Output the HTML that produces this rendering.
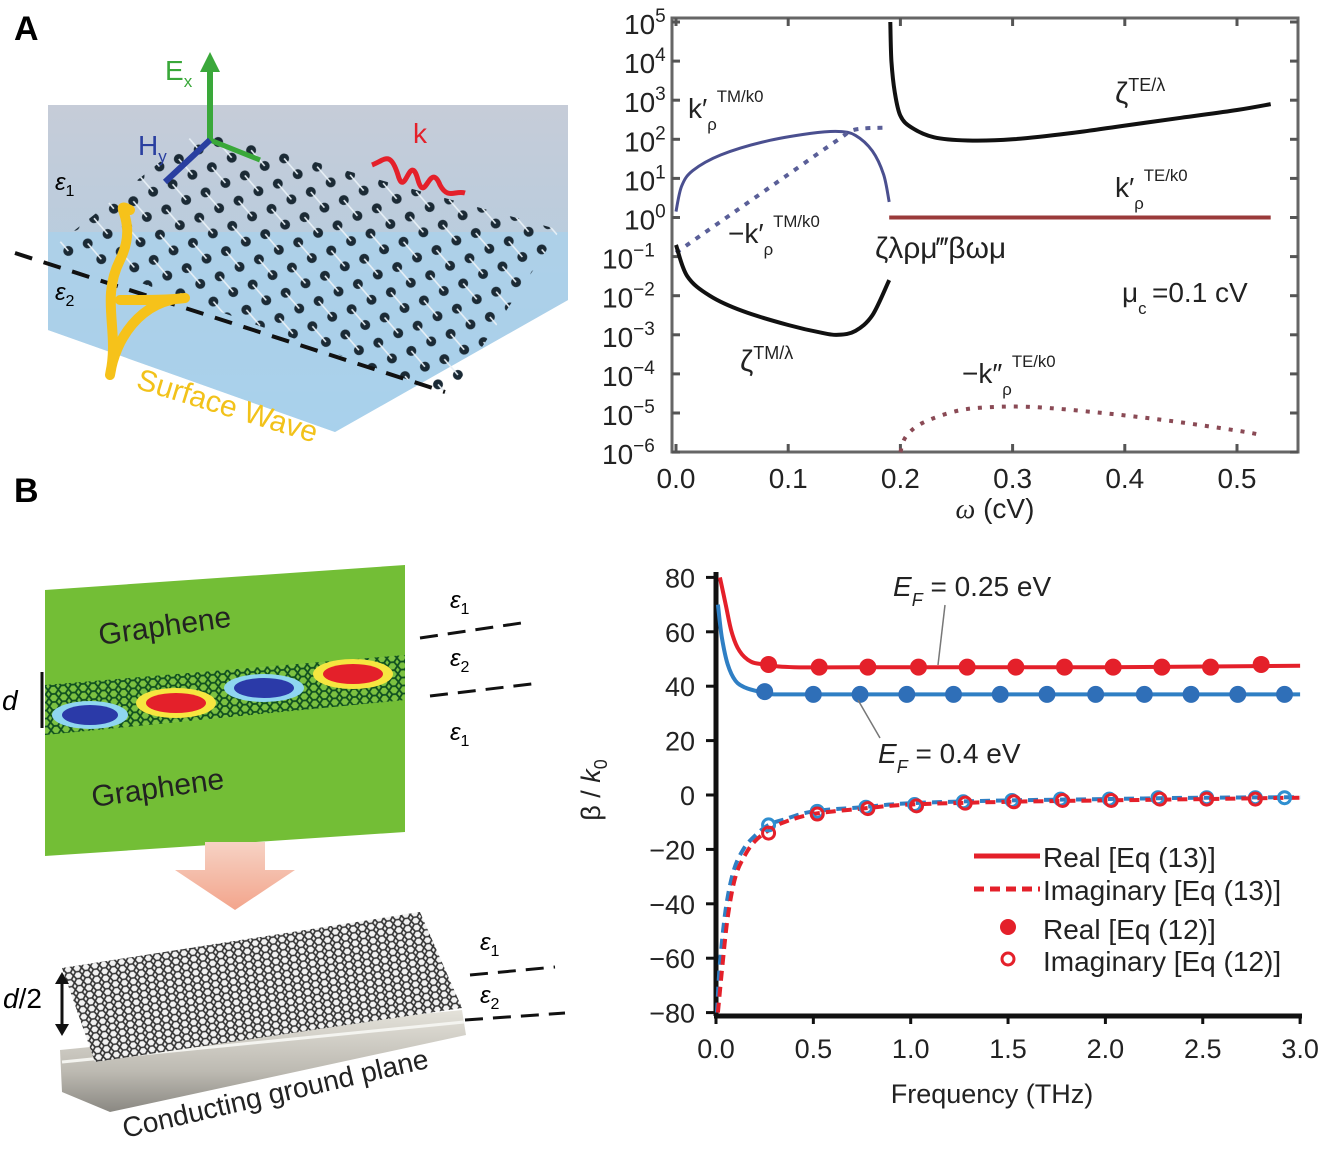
<!DOCTYPE html>
<html><head><meta charset="utf-8">
<style>
html,body{margin:0;padding:0;background:#fff;}
body{width:1321px;height:1147px;overflow:hidden;font-family:"Liberation Sans",sans-serif;}
svg text{font-family:"Liberation Sans",sans-serif;}
</style></head>
<body>
<svg id="fig" width="1321" height="1147" viewBox="0 0 1321 1147" xmlns="http://www.w3.org/2000/svg">
<defs>
  <linearGradient id="bgA" x1="0" y1="0" x2="0" y2="1">
    <stop offset="0" stop-color="#c6ccd8"/><stop offset="0.6" stop-color="#b4cde0"/><stop offset="1" stop-color="#a9d0ea"/>
  </linearGradient>
  <pattern id="dots" width="34" height="26" patternUnits="userSpaceOnUse" patternTransform="rotate(14)">
    <circle cx="8" cy="7" r="5" fill="#1b2a35"/><circle cx="25" cy="19" r="5" fill="#1b2a35"/>
    <line x1="8" y1="7" x2="25" y2="19" stroke="#e8f0f6" stroke-width="1.6"/>
  </pattern>
  <pattern id="hexg" width="10" height="8" patternUnits="userSpaceOnUse" patternTransform="rotate(-4)">
    <rect width="10" height="8" fill="#7cc241"/>
    <path d="M0 4 L3 0 L7 0 L10 4 L7 8 L3 8 Z" fill="none" stroke="#0f4f1f" stroke-width="1.8"/>
  </pattern>
  <pattern id="hexk" width="9" height="7" patternUnits="userSpaceOnUse" patternTransform="rotate(-8)">
    <rect width="9" height="7" fill="#f2f2f2"/>
    <path d="M0 3.5 L2.5 0 L6.5 0 L9 3.5 L6.5 7 L2.5 7 Z" fill="none" stroke="#333" stroke-width="1.6"/>
  </pattern>
  <linearGradient id="slab" x1="0" y1="0" x2="0" y2="1">
    <stop offset="0" stop-color="#e4e2da"/><stop offset="0.6" stop-color="#bdbab2"/><stop offset="1" stop-color="#8a8882"/>
  </linearGradient>
  <linearGradient id="arr" x1="0" y1="0" x2="0" y2="1">
    <stop offset="0" stop-color="#f6d2c4"/><stop offset="1" stop-color="#f3a58c"/>
  </linearGradient>
</defs>

<g>
  <text x="14" y="40" font-size="34" font-weight="bold">A</text>
  <polygon points="48,105 568,105 568,300 335,432 48,330" fill="url(#bgA)"/>
  <polygon points="48,232 568,232 568,300 335,432 48,330" fill="#a8d2ec" opacity="0.7"/>
  <polygon points="50,250 200,130 560,230 450,395" fill="url(#dots)"/>
  <line x1="15" y1="253" x2="445" y2="392" stroke="#111" stroke-width="4" stroke-dasharray="18,12"/>
  <path d="M110,375 C120,330 100,300 120,260 C140,220 110,200 130,210 M120,300 C150,300 170,300 185,298 M110,375 C115,340 140,300 185,298" fill="none" stroke="#f6c21a" stroke-width="10" stroke-linecap="round"/>
  <text x="135" y="388" font-size="30" fill="#f2c21a" transform="rotate(17 135 388)">Surface Wave</text>
  <line x1="210" y1="140" x2="210" y2="68" stroke="#3aa83a" stroke-width="6"/>
  <polygon points="200,72 220,72 210,52" fill="#3aa83a"/>
  <line x1="210" y1="140" x2="260" y2="160" stroke="#3aa83a" stroke-width="5"/>
  <line x1="210" y1="140" x2="165" y2="182" stroke="#2a3fa0" stroke-width="6"/>
  <text x="165" y="80" font-size="28" fill="#3aa83a">E<tspan font-size="17" dy="7">x</tspan></text>
  <text x="138" y="155" font-size="28" fill="#2a3fa0">H<tspan font-size="17" dy="7">y</tspan></text>
  <path d="M372,165 C385,160 390,150 398,175 C405,200 410,150 418,180 C425,205 430,160 440,185 C448,200 455,190 465,193" fill="none" stroke="#e4202a" stroke-width="5"/>
  <text x="413" y="143" font-size="28" fill="#e4202a">k</text>
  <text x="55" y="190" font-size="24" font-style="italic" font-family="Liberation Serif,serif">ε<tspan font-size="16" dy="6" font-style="normal">1</tspan></text>
  <text x="55" y="300" font-size="24" font-style="italic" font-family="Liberation Serif,serif">ε<tspan font-size="16" dy="6" font-style="normal">2</tspan></text>
</g>

<g>
  <text x="14" y="502" font-size="34" font-weight="bold">B</text>
  <polygon points="45,590 405,565 405,832 45,856" fill="#73be36"/>
  <polygon points="45,685 405,655 405,700 45,735" fill="url(#hexg)"/>
  <ellipse cx="90" cy="715" rx="38" ry="14" fill="#8fd6f0"/><ellipse cx="90" cy="715" rx="28" ry="10" fill="#2b3aa8"/>
  <ellipse cx="176" cy="703" rx="40" ry="15" fill="#f6e640"/><ellipse cx="176" cy="703" rx="30" ry="10" fill="#e4202a"/>
  <ellipse cx="264" cy="688" rx="40" ry="14" fill="#8fd6f0"/><ellipse cx="264" cy="688" rx="30" ry="10" fill="#2b3aa8"/>
  <ellipse cx="353" cy="674" rx="40" ry="15" fill="#f6e640"/><ellipse cx="353" cy="674" rx="30" ry="10" fill="#e4202a"/>
  <text x="100" y="645" font-size="30" fill="#222" transform="rotate(-8 100 645)">Graphene</text>
  <text x="93" y="807" font-size="30" fill="#222" transform="rotate(-8 93 807)">Graphene</text>
  <line x1="42" y1="672" x2="42" y2="728" stroke="#111" stroke-width="3"/>
  <text x="2" y="710" font-size="28" font-style="italic">d</text>
  <line x1="420" y1="638" x2="528" y2="622" stroke="#111" stroke-width="3" stroke-dasharray="18,10"/>
  <line x1="430" y1="696" x2="540" y2="683" stroke="#111" stroke-width="3" stroke-dasharray="18,10"/>
  <text x="450" y="608" font-size="24" font-style="italic" font-family="Liberation Serif,serif">ε<tspan font-size="16" dy="6" font-style="normal">1</tspan></text>
  <text x="450" y="666" font-size="24" font-style="italic" font-family="Liberation Serif,serif">ε<tspan font-size="16" dy="6" font-style="normal">2</tspan></text>
  <text x="450" y="740" font-size="24" font-style="italic" font-family="Liberation Serif,serif">ε<tspan font-size="16" dy="6" font-style="normal">1</tspan></text>
  <polygon points="205,842 265,842 265,870 295,870 235,910 175,870 205,870" fill="url(#arr)"/>
  <polygon points="60,1050 462,1010 466,1035 110,1112 62,1092" fill="url(#slab)"/>
  <line x1="62" y1="1062" x2="464" y2="1022" stroke="#f4f4f0" stroke-width="3"/>
  <polygon points="62,968 420,912 462,1008 95,1062" fill="url(#hexk)"/>
  <line x1="62" y1="976" x2="62" y2="1032" stroke="#111" stroke-width="3"/>
  <polygon points="55,984 69,984 62,972" fill="#111"/><polygon points="55,1024 69,1024 62,1036" fill="#111"/>
  <text x="3" y="1008" font-size="28"><tspan font-style="italic">d</tspan>/2</text>
  <text x="125" y="1138" font-size="28" fill="#222" transform="rotate(-13 125 1138)">Conducting ground plane</text>
  <line x1="470" y1="975" x2="555" y2="967" stroke="#111" stroke-width="3" stroke-dasharray="18,10"/>
  <line x1="465" y1="1020" x2="565" y2="1013" stroke="#111" stroke-width="3" stroke-dasharray="18,10"/>
  <text x="480" y="950" font-size="24" font-style="italic" font-family="Liberation Serif,serif">ε<tspan font-size="16" dy="6" font-style="normal">1</tspan></text>
  <text x="480" y="1003" font-size="24" font-style="italic" font-family="Liberation Serif,serif">ε<tspan font-size="16" dy="6" font-style="normal">2</tspan></text>
</g>

<g id="chartA"></g>
<g id="chartB"></g>
</svg>

<script>
// ===== Chart A data (omega in cV, log10 values) =====
const aXTicks = [0.0, 0.1, 0.2, 0.3, 0.4, 0.5];
const aYTicks = [5, 4, 3, 2, 1, 0, -1, -2, -3, -4, -5, -6];
const kTMx = [0.0, 0.005, 0.015, 0.04, 0.08, 0.12, 0.145, 0.16, 0.175, 0.185, 0.19];
const kTMy = [0.15, 0.8, 1.2, 1.6, 1.95, 2.15, 2.2, 2.1, 1.7, 1.1, 0.4];
const nkTMx = [0.0, 0.05, 0.1, 0.145, 0.16, 0.19];
const nkTMy = [-0.9, 0.1, 1.1, 2.0, 2.25, 2.3];
const zTMx = [0.0, 0.01, 0.03, 0.06, 0.1, 0.13, 0.145, 0.16, 0.175, 0.19];
const zTMy = [-0.7, -1.5, -2.0, -2.4, -2.75, -2.95, -3.0, -2.9, -2.5, -1.6];
const zTEx = [0.191, 0.192, 0.195, 0.2, 0.21, 0.23, 0.26, 0.3, 0.35, 0.4, 0.45, 0.5, 0.53];
const zTEy = [5.0, 4.0, 3.2, 2.6, 2.3, 2.05, 1.97, 2.0, 2.15, 2.35, 2.55, 2.75, 2.9];
const kTEx = [0.19, 0.53];
const kTEy = [0.0, 0.0];
const nkTEx = [0.2, 0.205, 0.22, 0.25, 0.28, 0.32, 0.38, 0.44, 0.5, 0.52];
const nkTEy = [-6.0, -5.6, -5.25, -4.95, -4.85, -4.85, -5.0, -5.2, -5.45, -5.55];

// ===== Chart B data (frequency THz, beta/k0) =====
const bXTicks = [0.0, 0.5, 1.0, 1.5, 2.0, 2.5, 3.0];
const bYTicks = [80, 60, 40, 20, 0, -20, -40, -60, -80];
const realRx = [0.02, 0.05, 0.08, 0.12, 0.18, 0.25, 0.4, 1.0, 2.0, 3.0];
const realRy = [80, 70, 60, 53, 49, 48, 47, 47, 47, 47.5];
const realBx = [0.01, 0.03, 0.06, 0.1, 0.15, 0.22, 0.3, 1.0, 2.0, 3.0];
const realBy = [70, 58, 48, 42, 39.5, 38, 37, 37, 37, 37];
const markRx = [0.27, 0.53, 0.78, 1.04, 1.29, 1.54, 1.79, 2.04, 2.29, 2.54, 2.8];
const markRy = [48, 47, 47, 47, 47, 47, 47, 47, 47, 47, 48];
const markBx = [0.25, 0.5, 0.74, 0.98, 1.22, 1.46, 1.7, 1.95, 2.2, 2.44, 2.68, 2.92];
const markBy = [38, 37, 37, 37, 37, 37, 37, 37, 37, 37, 37, 37];
const imagRx = [0.01, 0.03, 0.06, 0.1, 0.15, 0.2, 0.27, 0.35, 0.5, 0.75, 1.0, 1.5, 2.0, 2.5, 3.0];
const imagRy = [-80, -65, -45, -30, -22, -17, -13, -10, -7, -5, -3.5, -2.5, -2, -1.5, -1];
const imagBx = [0.005, 0.02, 0.05, 0.09, 0.14, 0.2, 0.27, 0.35, 0.5, 0.75, 1.0, 1.5, 2.0, 2.5, 3.0];
const imagBy = [-80, -62, -42, -28, -20, -15, -11, -9, -6, -4.5, -3, -2, -1.5, -1, -0.8];
const imagMRx = [0.27, 0.52, 0.78, 1.03, 1.28, 1.53, 1.78, 2.03, 2.28, 2.52, 2.77];
const imagMRy = [-14, -7, -5, -4, -3, -2.5, -2, -2, -1.5, -1.5, -1.5];
const imagMBx = [0.27, 0.52, 0.77, 1.02, 1.27, 1.52, 1.77, 2.02, 2.27, 2.52, 2.77, 2.92];
const imagMBy = [-11, -6, -4.5, -3.5, -2.5, -2, -1.5, -1.5, -1, -1, -1, -1];

const NS = 'http://www.w3.org/2000/svg';
function mk(parent, tag, attrs, txt){
  const e = document.createElementNS(NS, tag);
  for (const k in attrs) e.setAttribute(k, attrs[k]);
  if (txt !== undefined) e.textContent = txt;
  parent.appendChild(e);
  return e;
}
// smooth Catmull-Rom path through the data points
function pathD(xs, ys, sx, sy){
  const p = xs.map((x,i)=>[sx(x), sy(ys[i])]);
  if (p.length < 3) return p.map((q,i)=>(i?'L':'M')+q[0].toFixed(1)+','+q[1].toFixed(1)).join(' ');
  let d = 'M'+p[0][0].toFixed(1)+','+p[0][1].toFixed(1);
  for (let i=0;i<p.length-1;i++){
    const p0=p[Math.max(0,i-1)], p1=p[i], p2=p[i+1], p3=p[Math.min(p.length-1,i+2)];
    const c1=[p1[0]+(p2[0]-p0[0])/6, p1[1]+(p2[1]-p0[1])/6];
    const c2=[p2[0]-(p3[0]-p1[0])/6, p2[1]-(p3[1]-p1[1])/6];
    d += ' C'+c1[0].toFixed(1)+','+c1[1].toFixed(1)+' '+c2[0].toFixed(1)+','+c2[1].toFixed(1)+' '+p2[0].toFixed(1)+','+p2[1].toFixed(1);
  }
  return d;
}

// ---------- Chart A ----------
const gA = document.getElementById('chartA');
const axA = v => 676 + (v - 0) * 1122;
const ayA = v => 22 + (5 - v) * 39.1;
let fr = mk(gA, 'rect', {x:672, y:18, width:626, height:434, fill:'none', stroke:'#666', 'stroke-width':3});


aXTicks.forEach(v => {
  mk(gA, 'line', {x1:axA(v), y1:452, x2:axA(v), y2:444, stroke:'#555', 'stroke-width':3});
  mk(gA, 'line', {x1:axA(v), y1:18, x2:axA(v), y2:26, stroke:'#555', 'stroke-width':3});
  const t = mk(gA, 'text', {x:axA(v), y:488, 'font-size':28, 'text-anchor':'middle', fill:'#222'}, v.toFixed(1));
  
  
});
aYTicks.forEach(v => {
  mk(gA, 'line', {x1:672, y1:ayA(v), x2:680, y2:ayA(v), stroke:'#555', 'stroke-width':3});
  mk(gA, 'line', {x1:1290, y1:ayA(v), x2:1298, y2:ayA(v), stroke:'#555', 'stroke-width':3});
  const t = mk(gA, 'text', {x:v<0?602:624, y:ayA(v)+12, 'font-size':28, fill:'#222'});
  
  
  t.appendChild(document.createTextNode('10'));
  mk(t, 'tspan', {dy:-12, 'font-size':19}, v<0 ? '\u2212' + Math.abs(v) : String(v));
});
let xt = mk(gA, 'text', {x:995, y:518, 'font-size':28, 'text-anchor':'middle', fill:'#222'});


mk(xt, 'tspan', {'font-style':'italic', 'font-family':'Liberation Serif,serif'}, '\u03c9');
xt.appendChild(document.createTextNode(' (cV)'));

function curveA(xs, ys, color, dash, w, name){
  const p = mk(gA, 'path', {d:pathD(xs, ys, axA, ayA), fill:'none', stroke:color, 'stroke-width':w, 'stroke-dasharray':dash||'none'});
  
  
}
curveA(kTMx, kTMy, '#4a4f8f', null, 3, 'k-rho-tm-curve');
curveA(nkTMx, nkTMy, '#5a5f98', '5,7', 4, 'neg-k-rho-tm-curve');
curveA(zTMx, zTMy, '#111', null, 4, 'zeta-tm-curve');
curveA(zTEx, zTEy, '#111', null, 4, 'zeta-te-curve');
curveA(kTEx, kTEy, '#9a3a3a', null, 4, 'k-rho-te-curve');
curveA(nkTEx, nkTEy, '#8a4a55', '4,8', 4, 'neg-k2-rho-te-curve');

function lab(g, x, y, main, sub, sup, size, name){
  const t = mk(g, 'text', {x:x, y:y, 'font-size':size, fill:'#222'});
  
  
  t.appendChild(document.createTextNode(main));
  if (sub) mk(t, 'tspan', {dy:12, 'font-size':size*0.6}, sub);
  if (sup) mk(t, 'tspan', {dy:sub?-28:-12, 'font-size':size*0.6}, sup);
}
lab(gA, 688, 118, 'k\u2032', '\u03c1', 'TM/k0', 28, 'label-k-rho-tm');
lab(gA, 728, 243, '\u2212k\u2032', '\u03c1', 'TM/k0', 28, 'label-neg-k-rho-tm');
lab(gA, 1115, 197, 'k\u2032', '\u03c1', 'TE/k0', 28, 'label-k-rho-te');
lab(gA, 962, 383, '\u2212k\u2033', '\u03c1', 'TE/k0', 28, 'label-neg-k2-rho-te');
lab(gA, 1115, 103, '\u03b6', null, 'TE/\u03bb', 30, 'label-zeta-te');
lab(gA, 740, 371, '\u03b6', null, 'TM/\u03bb', 30, 'label-zeta-tm');
let garb = mk(gA, 'text', {x:875, y:258, 'font-size':30, 'font-family':'Liberation Serif,serif', fill:'#222'}, '\u03b6\u03bb\u03c1\u03bc\u2034\u03b2\u03c9\u03bc');


lab(gA, 1122, 302, '\u03bc', 'c', null, 28, 'label-mu-c');
let mu = mk(gA, 'text', {x:1152, y:302, 'font-size':28, fill:'#222'}, '=0.1 cV');



// ---------- Chart B ----------
const gB = document.getElementById('chartB');
const axB = v => 716 + v * 194.7;
const ayB = v => 795 - v * 2.72;
let ya = mk(gB, 'line', {x1:716, y1:572, x2:716, y2:1016, stroke:'#111', 'stroke-width':5});


let xa = mk(gB, 'line', {x1:714, y1:1016, x2:1302, y2:1016, stroke:'#111', 'stroke-width':5});


bXTicks.forEach(v => {
  mk(gB, 'line', {x1:axB(v), y1:1016, x2:axB(v), y2:1024, stroke:'#111', 'stroke-width':3});
  const t = mk(gB, 'text', {x:axB(v), y:1058, 'font-size':27, 'text-anchor':'middle', fill:'#222'}, v.toFixed(1));
  
  
});
bYTicks.forEach(v => {
  mk(gB, 'line', {x1:706, y1:ayB(v), x2:716, y2:ayB(v), stroke:'#111', 'stroke-width':3});
  const t = mk(gB, 'text', {x:695, y:ayB(v)+10, 'font-size':27, 'text-anchor':'end', fill:'#222'}, v<0 ? '\u2212'+Math.abs(v) : String(v));
  
  
});
let xtb = mk(gB, 'text', {x:992, y:1103, 'font-size':27, 'text-anchor':'middle', fill:'#222'}, 'Frequency (THz)');


let ytb = mk(gB, 'text', {x:600, y:790, 'font-size':27, 'text-anchor':'middle', fill:'#222', 'font-family':'Liberation Serif,serif', transform:'rotate(-90 600 790)'});


ytb.appendChild(document.createTextNode('\u03b2 / '));
mk(ytb, 'tspan', {'font-style':'italic'}, 'k');
mk(ytb, 'tspan', {dy:7, 'font-size':18}, '0');

function lineB(xs, ys, color, dash, name){
  const p = mk(gB, 'path', {d:pathD(xs, ys, axB, ayB), fill:'none', stroke:color, 'stroke-width':4, 'stroke-dasharray':dash||'none'});
  
  
}
function marksB(xs, ys, color, open, name){
  xs.forEach((x,i) => {
    const c = mk(gB, 'circle', {cx:axB(x), cy:ayB(ys[i]), r:open?6:8, fill:open?'none':color, stroke:color, 'stroke-width':open?3:1});
    
    
  });
}
lineB(imagBx, imagBy, '#2f7fc4', '10,6', 'imag-eq13-0.4ev');
lineB(imagRx, imagRy, '#e4202a', '10,6', 'imag-eq13-0.25ev');
marksB(imagMBx, imagMBy, '#2f8fd0', true, 'imag-eq12-0.4ev-marker');
marksB(imagMRx, imagMRy, '#e4202a', true, 'imag-eq12-0.25ev-marker');
lineB(realBx, realBy, '#2f7fc4', null, 'real-eq13-0.4ev');
lineB(realRx, realRy, '#e4202a', null, 'real-eq13-0.25ev');
marksB(markBx, markBy, '#2f6fb8', false, 'real-eq12-0.4ev-marker');
marksB(markRx, markRy, '#e4202a', false, 'real-eq12-0.25ev-marker');

mk(gB, 'line', {x1:945, y1:605, x2:938, y2:665, stroke:'#777', 'stroke-width':1.5});
mk(gB, 'line', {x1:858, y1:700, x2:880, y2:738, stroke:'#777', 'stroke-width':1.5});
function efLab(x, y, val, name){
  const t = mk(gB, 'text', {x:x, y:y, 'font-size':28, fill:'#222'});
  
  
  mk(t, 'tspan', {'font-style':'italic'}, 'E');
  mk(t, 'tspan', {dy:10, 'font-size':18, 'font-style':'italic'}, 'F');
  mk(t, 'tspan', {dy:-10}, ' = ' + val);
}
efLab(893, 596, '0.25 eV', 'annotation-ef-025');
efLab(878, 763, '0.4 eV', 'annotation-ef-04');

const legY = [857, 890, 929, 961];
const legT = ['Real [Eq (13)]', 'Imaginary [Eq (13)]', 'Real [Eq (12)]', 'Imaginary [Eq (12)]'];
const lg = mk(gB, 'g', {});


mk(lg, 'line', {x1:974, y1:legY[0]-1, x2:1040, y2:legY[0]-1, stroke:'#e4202a', 'stroke-width':5});
mk(lg, 'line', {x1:974, y1:legY[1]-1, x2:1040, y2:legY[1]-1, stroke:'#e4202a', 'stroke-width':5, 'stroke-dasharray':'10,6'});
mk(lg, 'circle', {cx:1008, cy:legY[2]-2, r:8, fill:'#e4202a'});
mk(lg, 'circle', {cx:1008, cy:legY[3]-2, r:6, fill:'none', stroke:'#e4202a', 'stroke-width':3});
legT.forEach((s,i) => {
  const t = mk(lg, 'text', {x:1043, y:legY[i]+10, 'font-size':28, fill:'#222'}, s);
  
  
});
</script>
</body></html>
